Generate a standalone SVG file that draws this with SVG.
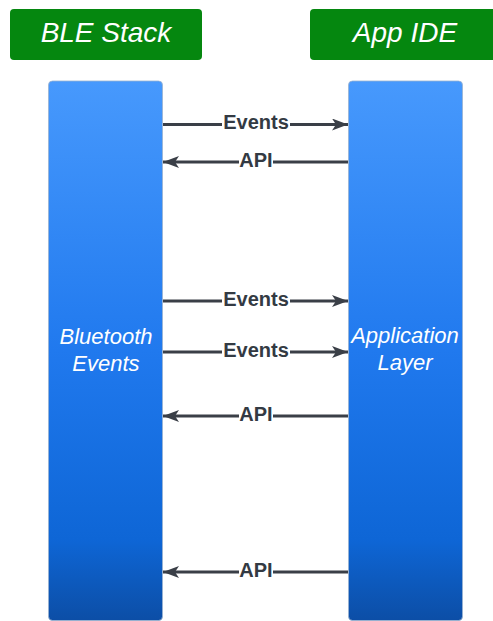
<svg xmlns="http://www.w3.org/2000/svg" width="493" height="621" viewBox="0 0 493 621">
  <style>
    .hdr { fill: #05870f; }
    .hdr-text { font-family: "Liberation Sans", Arial, sans-serif; font-style: italic; font-size: 28px; fill: #ffffff; text-anchor: middle; }
    .col { fill: url(#colGrad); stroke: #9bb3cf; stroke-width: 0.8; }
    .col-text { font-family: "Liberation Sans", Arial, sans-serif; font-style: italic; font-size: 22px; fill: #ffffff; text-anchor: middle; }
    .link { stroke: #3a3f47; stroke-width: 3.2; fill: none; }
    .lbl { font-family: "Liberation Sans", Arial, sans-serif; font-weight: bold; font-size: 20px; fill: #333a43; text-anchor: middle; }
    .lbl-bg { fill: #ffffff; }
  </style>
  <defs>
    <linearGradient id="colGrad" x1="0" y1="0" x2="0" y2="1">
      <stop offset="0" stop-color="#4799fd"/>
      <stop offset="0.5" stop-color="#2079ee"/>
      <stop offset="0.85" stop-color="#0e66d6"/>
      <stop offset="1" stop-color="#0c4ea6"/>
    </linearGradient>
    <marker id="arrow" viewBox="0 0 16 12" refX="16" refY="6" markerWidth="16" markerHeight="12" markerUnits="userSpaceOnUse" orient="auto">
      <path d="M0,0 L16,6 L0,12 L4,6 Z" fill="#3a3f47"/>
    </marker>
  </defs>

  <g id="ble-stack">
    <rect class="hdr" x="10" y="9" width="192" height="51" rx="4"/>
    <text class="hdr-text" x="106" y="42">BLE Stack</text>
  </g>
  <g id="app-ide">
    <rect class="hdr" x="310" y="9" width="190" height="51" rx="4"/>
    <text class="hdr-text" x="405" y="42">App IDE</text>
  </g>

  <g id="bluetooth-events">
    <rect class="col" x="48.5" y="81" width="114" height="539.5" rx="4"/>
    <text class="col-text" x="106" y="344">Bluetooth</text>
    <text class="col-text" x="106" y="371">Events</text>
  </g>
  <g id="application-layer">
    <rect class="col" x="348.5" y="81" width="114" height="539.5" rx="4"/>
    <text class="col-text" x="405" y="343">Application</text>
    <text class="col-text" x="405" y="370">Layer</text>
  </g>

  <g id="connectors">
    <line class="link" x1="163" y1="124.5" x2="348" y2="124.5" marker-end="url(#arrow)"/>
    <line class="link" x1="348" y1="162" x2="163" y2="162" marker-end="url(#arrow)"/>
    <line class="link" x1="163" y1="301" x2="348" y2="301" marker-end="url(#arrow)"/>
    <line class="link" x1="163" y1="352" x2="348" y2="352" marker-end="url(#arrow)"/>
    <line class="link" x1="348" y1="416" x2="163" y2="416" marker-end="url(#arrow)"/>
    <line class="link" x1="348" y1="572" x2="163" y2="572" marker-end="url(#arrow)"/>
  </g>

  <g id="connector-labels">
    <rect class="lbl-bg" x="222" y="114" width="68" height="18"/>
    <text class="lbl" x="256" y="129">Events</text>
    <rect class="lbl-bg" x="239" y="152" width="34" height="18"/>
    <text class="lbl" x="256" y="167">API</text>
    <rect class="lbl-bg" x="222" y="291" width="68" height="18"/>
    <text class="lbl" x="256" y="306">Events</text>
    <rect class="lbl-bg" x="222" y="342" width="68" height="18"/>
    <text class="lbl" x="256" y="357">Events</text>
    <rect class="lbl-bg" x="239" y="406" width="34" height="18"/>
    <text class="lbl" x="256" y="421">API</text>
    <rect class="lbl-bg" x="239" y="562" width="34" height="18"/>
    <text class="lbl" x="256" y="577">API</text>
  </g>
</svg>
